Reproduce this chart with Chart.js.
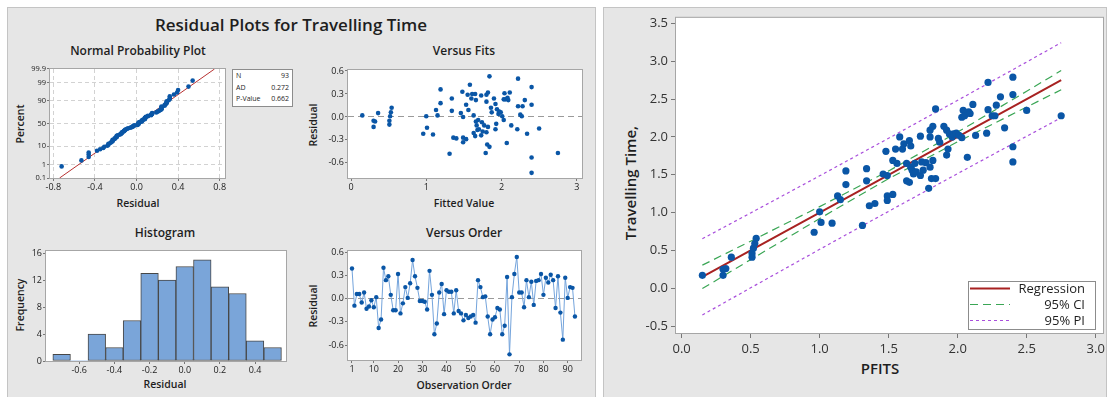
<!DOCTYPE html>
<html><head><meta charset="utf-8">
<script src="https://cdn.jsdelivr.net/npm/chart.js@4.4.1/dist/chart.umd.min.js"></script>
<style>
body{margin:0;width:1108px;height:397px;background:#fff;position:relative;overflow:hidden;font-family:'Open Sans',sans-serif;color:#1e1e1e}
.panel{position:absolute;background:#e6e6e6;border:1px solid #c4c4c4;box-sizing:border-box}
.t{position:absolute;white-space:nowrap;font-weight:600;transform:translate(-50%,-50%);line-height:1}
.rot{transform:translate(-50%,-50%) rotate(-90deg)}
canvas{position:absolute}
.box{position:absolute;background:#fff;border:1px solid #8c8c8c;box-sizing:border-box}
.np{position:absolute;font-size:7px;line-height:1;white-space:nowrap}
.lg{position:absolute;font-size:13px;line-height:1;white-space:nowrap;text-align:right}
</style></head><body>
<div class="panel" style="left:7px;top:7px;width:589px;height:400px"></div>
<div class="panel" style="left:603px;top:7px;width:504px;height:400px"></div>

<div class="t" style="left:291px;top:24px;font-size:17px">Residual Plots for Travelling Time</div>
<div class="t" style="left:138px;top:51px;font-size:12px">Normal Probability Plot</div>
<div class="t" style="left:464px;top:51px;font-size:12px">Versus Fits</div>
<div class="t" style="left:165px;top:233px;font-size:12px">Histogram</div>
<div class="t" style="left:464px;top:233px;font-size:12px">Versus Order</div>
<div class="t" style="left:138px;top:203px;font-size:10.5px">Residual</div>
<div class="t" style="left:464px;top:203px;font-size:10.5px">Fitted Value</div>
<div class="t" style="left:165px;top:384px;font-size:10.5px">Residual</div>
<div class="t" style="left:464px;top:385px;font-size:10.5px">Observation Order</div>
<div class="t rot" style="left:20px;top:124px;font-size:10.5px">Percent</div>
<div class="t rot" style="left:313px;top:125px;font-size:10.5px">Residual</div>
<div class="t rot" style="left:20px;top:305px;font-size:10.5px">Frequency</div>
<div class="t rot" style="left:313px;top:306px;font-size:10.5px">Residual</div>
<div class="t rot" style="left:630px;top:183px;font-size:15px">Travelling Time,</div>
<div class="t" style="left:880px;top:368px;font-size:15px">PFITS</div>

<script>
// ---------------- DATA ----------------
// Residuals in observation order (Versus Order)
const orderResiduals = [0.39,-0.09,0.06,0.06,-0.05,0.08,-0.13,-0.10,-0.02,-0.11,
 0.02,-0.38,-0.27,0.40,0.24,0.29,0.05,-0.15,-0.15,0.32,
 -0.19,-0.06,0.15,0.01,0.20,0.50,0.29,0.14,-0.03,-0.03,
 -0.04,-0.14,0.36,0.05,-0.46,-0.32,0.08,0.19,-0.20,0.11,
 0.09,0.09,-0.19,0.11,-0.16,-0.19,-0.28,-0.21,-0.25,-0.23,
 -0.21,-0.31,0.24,0.15,0.02,0.03,-0.23,-0.46,-0.27,-0.24,
 -0.12,-0.14,-0.46,-0.35,0.28,-0.72,0.02,0.32,0.54,0.08,
 0.08,-0.11,0.24,0.02,0.22,-0.08,0.23,0.24,0.32,0.05,
 0.27,0.21,0.31,0.24,-0.12,0.29,-0.18,-0.53,0.27,0.01,
 0.15,0.14,-0.23];
// Fitted values (PFITS)
const pfits = [0.15,0.30,0.30,0.32,0.36,0.51,0.51,0.52,0.53,0.54,
 0.96,1.00,1.01,1.09,1.13,1.15,1.19,1.19,1.31,1.34,
 1.34,1.36,1.40,1.46,1.48,1.49,1.49,1.49,1.53,1.53,
 1.55,1.56,1.58,1.60,1.61,1.63,1.63,1.65,1.65,1.66,
 1.66,1.67,1.68,1.69,1.70,1.73,1.73,1.74,1.75,1.77,
 1.79,1.80,1.80,1.80,1.81,1.82,1.82,1.84,1.84,1.86,
 1.87,1.90,1.92,1.92,1.93,1.94,1.96,1.97,1.99,2.01,
 2.03,2.03,2.04,2.05,2.07,2.08,2.09,2.11,2.13,2.21,
 2.22,2.22,2.25,2.27,2.28,2.31,2.34,2.40,2.40,2.40,
 2.40,2.50,2.75];
// Observed travelling time for each fitted value
const travelTime = [0.17,0.17,0.25,0.26,0.41,0.41,0.46,0.53,0.59,0.66,
 0.74,1.01,0.87,0.86,1.22,1.17,1.37,1.55,0.83,1.58,
 1.42,1.09,1.12,1.51,1.81,1.49,1.22,1.16,1.24,1.69,
 1.84,1.65,2.00,1.84,1.91,1.65,1.42,1.40,1.95,1.88,
 1.60,1.56,1.51,1.65,1.54,1.49,2.01,1.67,1.56,1.66,
 1.32,1.60,2.00,2.09,1.45,2.14,1.69,2.37,1.45,1.98,
 1.93,2.14,1.76,2.09,1.84,2.04,2.00,2.04,2.05,2.02,
 1.99,2.26,2.35,2.28,1.73,2.33,2.31,2.43,2.02,2.05,
 2.72,2.36,2.28,2.28,2.42,2.53,2.12,2.79,2.56,1.87,
 1.67,2.35,2.28];
// Residual for each fitted value (Versus Fits)
const fitResiduals = [0.02,-0.13,-0.05,-0.06,0.05,-0.10,-0.05,0.01,0.06,0.12,
 -0.22,0.01,-0.14,-0.23,0.09,0.02,0.18,0.36,-0.48,0.24,
 0.08,-0.27,-0.28,0.05,0.33,0.00,-0.27,-0.33,-0.29,0.16,
 0.29,0.09,0.42,0.24,0.30,0.02,-0.21,-0.25,0.30,0.22,
 -0.06,-0.11,-0.17,-0.04,-0.16,-0.24,0.28,-0.07,-0.19,-0.11,
 -0.47,-0.20,0.20,0.29,-0.36,0.32,-0.13,0.53,-0.39,0.12,
 0.06,0.24,-0.16,0.17,-0.09,0.10,0.04,0.07,0.06,0.01,
 -0.04,0.23,0.31,0.23,-0.34,0.25,0.22,0.32,-0.11,-0.16,
 0.50,0.14,0.03,0.01,0.14,0.22,-0.22,0.39,0.16,-0.53,
 -0.73,-0.15,-0.47];
// Histogram
const histMid = [-0.7,-0.6,-0.5,-0.4,-0.3,-0.2,-0.1,0.0,0.1,0.2,0.3,0.4,0.5];
const histCount = [1,0,4,2,6,13,12,14,15,11,10,3,2];
// Normal probability plot fit line (residual at 0.1% and 99.9%)
const npLineResid = [-0.74, 0.75];
const npLinePct = [0.1, 99.9];
const npStats = {N:'93', AD:'0.272', 'P-Value':'0.662'};
// Fitted line plot: regression, 95% CI and 95% PI
const bandX   = [0.15, 0.5, 1.0, 1.5, 2.0, 2.5, 2.75];
const regY    = [0.15, 0.5, 1.0, 1.5, 2.0, 2.5, 2.75];
const ciUpper = [0.305,0.622,1.079,1.551,2.064,2.604,2.877];
const ciLower = [-0.005,0.378,0.921,1.449,1.936,2.396,2.623];
const piUpper = [0.654,0.995,1.486,1.983,2.484,2.991,3.246];
const piLower = [-0.354,0.005,0.514,1.017,1.516,2.009,2.254];
// Tick labels
const npPctTicks = [0.1,1,10,50,90,99,99.9];
const npPctLabels = [0.1,1,10,50,90,99,99.9];
const npXTicks = [-0.8,-0.4,0,0.4,0.8];
const npXLabels = [-0.8,-0.4,0,0.4,0.8];
const residTicks = [-0.6,-0.3,0,0.3,0.6];
const fitTicks = [0,1,2,3];
const histXTicks = [-0.6,-0.4,-0.2,0,0.2,0.4];
const histYTicks = [0,4,8,12,16];
const orderTicks = [1,10,20,30,40,50,60,70,80,90];
const pfitsTicks = [0,0.5,1,1.5,2,2.5,3];
const travelTicks = [-0.5,0,0.5,1,1.5,2,2.5,3,3.5];

// ---------------- HELPERS ----------------
function qnorm(p){
 const a=[-3.969683028665376e+01,2.209460984245205e+02,-2.759285104469687e+02,1.383577518672690e+02,-3.066479806614716e+01,2.506628277459239e+00];
 const b=[-5.447609879822406e+01,1.615858368580409e+02,-1.556989798598866e+02,6.680131188771972e+01,-1.328068155288572e+01];
 const c=[-7.784894002430293e-03,-3.223964580411365e-01,-2.400758277161838e+00,-2.549732539343734e+00,4.374664141464968e+00,2.938163982698783e+00];
 const d=[7.784695709041462e-03,3.224671290700398e-01,2.445134137142996e+00,3.754408661907416e+00];
 const pl=0.02425; let q,r;
 if(p<pl){q=Math.sqrt(-2*Math.log(p));return (((((c[0]*q+c[1])*q+c[2])*q+c[3])*q+c[4])*q+c[5])/((((d[0]*q+d[1])*q+d[2])*q+d[3])*q+1);}
 if(p<=1-pl){q=p-0.5;r=q*q;return (((((a[0]*r+a[1])*r+a[2])*r+a[3])*r+a[4])*r+a[5])*q/(((((b[0]*r+b[1])*r+b[2])*r+b[3])*r+b[4])*r+1);}
 q=Math.sqrt(-2*Math.log(1-p));return -(((((c[0]*q+c[1])*q+c[2])*q+c[3])*q+c[4])*q+c[5])/((((d[0]*q+d[1])*q+d[2])*q+d[3])*q+1);
}
const FONT = "'Open Sans', sans-serif";
Chart.defaults.font.family = FONT;
Chart.defaults.color = '#222';
Chart.defaults.animation = false;
Chart.defaults.plugins.legend.display = false;
Chart.defaults.plugins.tooltip.enabled = false;
Chart.defaults.devicePixelRatio = 1;

const framePlugin = {
  id:'frame',
  beforeDraw(c){ const a=c.chartArea, x=c.ctx; x.save(); x.fillStyle='#fff'; x.fillRect(a.left,a.top,a.right-a.left,a.bottom-a.top); x.restore(); },
  afterDraw(c){ const a=c.chartArea, x=c.ctx; x.save(); x.strokeStyle='#a6a6a6'; x.lineWidth=1; x.strokeRect(a.left-0.5,a.top-0.5,a.right-a.left+1,a.bottom-a.top+1); x.restore(); }
};
Chart.register(framePlugin);

function makeCanvas(l,t,w,h){
  const c=document.createElement('canvas'); c.width=w; c.height=h;
  c.style.left=l+'px'; c.style.top=t+'px'; c.style.width=w+'px'; c.style.height=h+'px';
  document.body.appendChild(c); return c;
}
function axis(o){
  return {
    type:'linear', min:o.min, max:o.max, offset:false,
    afterBuildTicks: s => { s.ticks = o.ticks.map(v=>({value:v})); },
    afterFit: s => { if(o.w!==undefined) s.width=o.w; if(o.h!==undefined) s.height=o.h; },
    ticks:{ autoSkip:false, maxRotation:0, minRotation:0, font:{size:o.fs||9}, color:o.color||'#222', padding:o.pad===undefined?1:o.pad,
            callback:(v,i)=>o.fmt(v,i) },
    grid: Object.assign({ drawOnChartArea:false, tickLength:o.tl||3, tickColor:'#777', offset:false }, o.grid||{}),
    border:Object.assign({ display:false }, o.border||{})
  };
}
const f1 = v => (Math.abs(v)<1e-9?0:v).toFixed(1);
const PT = '#0a56a6';

// ---------------- NORMAL PROBABILITY PLOT ----------------
const sortedRes = orderResiduals.slice().sort((a,b)=>a-b);
const nObs = sortedRes.length;
const npPoints = sortedRes.map((r,i)=>({x:r, y:qnorm((i+1-0.3)/(nObs+0.4))}));
const zMin = qnorm(0.001), zMax = qnorm(0.999);
new Chart(makeCanvas(20,61,211,133),{
  type:'scatter',
  data:{datasets:[
    {data:npPoints, pointRadius:2.3, pointBackgroundColor:PT, pointBorderWidth:0},
    {data:npLineResid.map((r,i)=>({x:r,y:qnorm(npLinePct[i]/100)})), showLine:true, pointRadius:0, borderColor:'#b83232', borderWidth:1}
  ]},
  options:{responsive:false, layout:{padding:{top:8,right:6,left:0,bottom:0}},
    scales:{
      x:axis({min:-0.832,max:0.851,ticks:npXTicks,h:16,fmt:f1,
        grid:{drawOnChartArea:true, color:'#d2d2d2', tickColor:'#777'}, border:{dash:[4,3]}}),
      y:axis({min:zMin,max:zMax,ticks:npPctTicks.map(p=>qnorm(p/100)),w:30,fs:7.5,fmt:(v,i)=>String(npPctTicks[i]),
        grid:{drawOnChartArea:true, color:'#d2d2d2', tickColor:'#777'}, border:{dash:[4,3]}})
    }}
});

// ---------------- VERSUS FITS ----------------
new Chart(makeCanvas(318,62,272,132),{
  type:'scatter',
  data:{datasets:[{data:pfits.map((f,i)=>({x:f,y:fitResiduals[i]})), pointRadius:2.3, pointBackgroundColor:PT, pointBorderWidth:0}]},
  options:{responsive:false, layout:{padding:{top:8,right:8,left:0,bottom:0}},
    scales:{
      x:axis({min:-0.04,max:3.07,ticks:fitTicks,h:16,fmt:v=>String(v)}),
      y:axis({min:-0.797,max:0.613,ticks:residTicks,w:30,fmt:f1,
        grid:{drawOnChartArea:true, color:c=>c.tick.value===0?'#9a9a9a':'rgba(0,0,0,0)', tickColor:'#777', tickBorderDash:[]}, border:{dash:[6,4]}})
    }}
});

// ---------------- HISTOGRAM ----------------
new Chart(makeCanvas(16,243,278,134),{
  type:'bar',
  data:{datasets:[{data:histMid.map((m,i)=>({x:m,y:histCount[i]})), backgroundColor:'#7aa5d9', borderColor:'#474747',
    borderWidth:c=>c.raw && c.raw.y===0?0:1, borderSkipped:false, barPercentage:1, categoryPercentage:1}]},
  options:{responsive:false, layout:{padding:{top:8,right:8,left:0,bottom:0}},
    scales:{
      x:axis({min:-0.789,max:0.576,ticks:histXTicks,h:16,fmt:f1}),
      y:axis({min:0,max:16.3,ticks:histYTicks,w:30,fmt:v=>String(v)})
    }}
});

// ---------------- VERSUS ORDER ----------------
new Chart(makeCanvas(318,243,271,133),{
  type:'scatter',
  data:{datasets:[{data:orderResiduals.map((r,i)=>({x:i+1,y:r})), showLine:true, borderColor:'#74a4dc', borderWidth:1,
    pointRadius:2.2, pointBackgroundColor:PT, pointBorderWidth:0}]},
  options:{responsive:false, layout:{padding:{top:8,right:8,left:0,bottom:0}},
    scales:{
      x:axis({min:-0.65,max:95.5,ticks:orderTicks,h:16,fmt:v=>String(v)}),
      y:axis({min:-0.793,max:0.617,ticks:residTicks,w:30,fmt:f1,
        grid:{drawOnChartArea:true, color:c=>c.tick.value===0?'#9a9a9a':'rgba(0,0,0,0)', tickColor:'#777', tickBorderDash:[]}, border:{dash:[6,4]}})
    }}
});

// ---------------- FITTED LINE PLOT ----------------
const band = arr => bandX.map((x,i)=>({x, y:arr[i]}));
new Chart(makeCanvas(636,7,472,350),{
  type:'scatter',
  data:{datasets:[
    {data:pfits.map((f,i)=>({x:f,y:travelTime[i]})), pointRadius:3.6, pointBackgroundColor:PT, pointBorderWidth:0},
    {data:band(regY), showLine:true, pointRadius:0, borderColor:'#a82222', borderWidth:2},
    {data:band(ciUpper), showLine:true, pointRadius:0, borderColor:'#3aa655', borderWidth:1.2, borderDash:[8,5]},
    {data:band(ciLower), showLine:true, pointRadius:0, borderColor:'#3aa655', borderWidth:1.2, borderDash:[8,5]},
    {data:band(piUpper), showLine:true, pointRadius:0, borderColor:'#a94fdc', borderWidth:1.2, borderDash:[3,3]},
    {data:band(piLower), showLine:true, pointRadius:0, borderColor:'#a94fdc', borderWidth:1.2, borderDash:[3,3]}
  ]},
  options:{responsive:false, layout:{padding:{top:10,right:5,left:0,bottom:0}},
    scales:{
      x:axis({min:-0.041,max:3.053,ticks:pfitsTicks,h:24,fs:13,tl:5,pad:3,color:'#333',fmt:f1}),
      y:axis({min:-0.592,max:3.575,ticks:travelTicks,w:40,fs:13,tl:5,pad:3,color:'#333',fmt:f1})
    }}
});

// ---------------- LEGEND BOXES ----------------
function el(cls, style, text){ const d=document.createElement('div'); d.className=cls; d.style.cssText=style; if(text!==undefined) d.textContent=text; document.body.appendChild(d); return d; }
el('box','left:232px;top:69px;width:61px;height:38px');
Object.keys(npStats).forEach((k,i)=>{
  el('np',`left:236px;top:${72+i*11.5}px`,k);
  el('np',`left:250px;width:39px;text-align:right;top:${72+i*11.5}px`,npStats[k]);
});
el('box','left:968px;top:281px;width:128px;height:49px');
const legendItems = [['Regression','#a82222','none',2],['95% CI','#3aa655','8 5',1.2],['95% PI','#a94fdc','3 3',1.2]];
const svgNS='http://www.w3.org/2000/svg';
const svg=document.createElementNS(svgNS,'svg');
svg.setAttribute('width','44'); svg.setAttribute('height','49');
svg.style.cssText='position:absolute;left:969px;top:281px';
legendItems.forEach((it,i)=>{
  const ln=document.createElementNS(svgNS,'line');
  const y=7.5+i*16;
  ln.setAttribute('x1','1'); ln.setAttribute('x2','41'); ln.setAttribute('y1',y); ln.setAttribute('y2',y);
  ln.setAttribute('stroke',it[1]); ln.setAttribute('stroke-width',it[3]);
  if(it[2]!=='none') ln.setAttribute('stroke-dasharray',it[2]);
  svg.appendChild(ln);
  el('lg',`left:1000px;width:85px;top:${282+i*16}px`,it[0]);
});
document.body.appendChild(svg);
</script>
</body></html>
